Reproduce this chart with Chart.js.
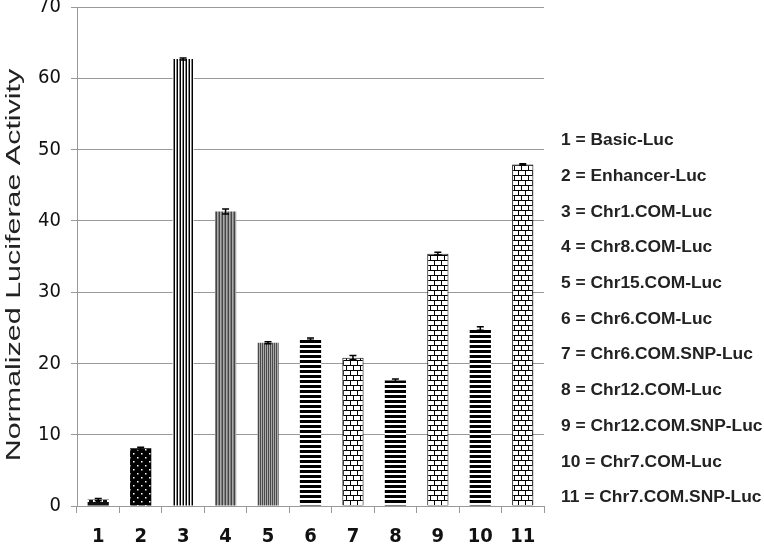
<!DOCTYPE html>
<html>
<head>
<meta charset="utf-8">
<script src="https://cdn.jsdelivr.net/npm/chart.js@4/dist/chart.umd.min.js"></script>
<style>
  html, body { margin: 0; padding: 0; background: #fff; }
  #wrap { width: 764px; height: 548px; }
</style>
</head>
<body>
<div id="wrap"><canvas id="chart" width="764" height="548"></canvas></div>
<script>
(function () {
  "use strict";

  var categories = ["1", "2", "3", "4", "5", "6", "7", "8", "9", "10", "11"];
  var activity = [0.9, 8.1, 62.7, 41.3, 22.9, 23.4, 20.8, 17.6, 35.4, 24.9, 47.9];
  var errors = [0.15, 0.15, 0.15, 0.35, 0.15, 0.15, 0.3, 0.2, 0.2, 0.25, 0.1];
  var constructs = [
    "Basic-Luc",
    "Enhancer-Luc",
    "Chr1.COM-Luc",
    "Chr8.COM-Luc",
    "Chr15.COM-Luc",
    "Chr6.COM-Luc",
    "Chr6.COM.SNP-Luc",
    "Chr12.COM-Luc",
    "Chr12.COM.SNP-Luc",
    "Chr7.COM-Luc",
    "Chr7.COM.SNP-Luc"
  ];
  var fills = ["checks", "dots", "vlines", "vgray", "vfine", "hlines", "brick", "hlines", "brick", "hlines", "brick"];
  var yTitle = "Normalized Luciferae Activity";

  var narrow = '"Liberation Sans Narrow", "DejaVu Sans Condensed", Lato, sans-serif';

  function tile(w, h, draw) {
    var c = document.createElement("canvas");
    c.width = w;
    c.height = h;
    var g = c.getContext("2d");
    g.fillStyle = "#fff";
    g.fillRect(0, 0, w, h);
    draw(g);
    return document.getElementById("chart").getContext("2d").createPattern(c, "repeat");
  }

  function columns(cols) {
    return tile(cols.length, 1, function (g) {
      cols.forEach(function (col, i) {
        g.fillStyle = col;
        g.fillRect(i, 0, 1, 1);
      });
    });
  }

  function makePattern(kind) {
    if (kind === "checks") {
      return tile(7, 6, function (g) {
        g.fillStyle = "#111";
        g.fillRect(0, 0, 7, 6);
        g.fillStyle = "#fff";
        g.fillRect(2, 2, 3, 2);
      });
    }
    if (kind === "dots") {
      return tile(8, 8, function (g) {
        g.fillStyle = "#000";
        g.fillRect(0, 0, 8, 8);
        g.fillStyle = "#fff";
        g.fillRect(1, 1, 1.5, 1.5);
        g.fillRect(5, 5, 1.5, 1.5);
      });
    }
    if (kind === "vlines") return columns(["#000", "#fff", "#888"]);
    if (kind === "vgray") return columns(["#444", "#aaa", "#808080"]);
    if (kind === "vfine") return columns(["#4a4a4a", "#aaa"]);
    if (kind === "hlines") {
      return tile(1, 5, function (g) {
        g.fillStyle = "#000";
        g.fillRect(0, 0, 1, 3);
      });
    }
    // brick
    return tile(14, 10, function (g) {
      g.fillStyle = "#000";
      g.fillRect(0, 0, 14, 1);
      g.fillRect(0, 5, 14, 1);
      g.fillRect(0, 0, 1, 5);
      g.fillRect(7, 0, 1, 5);
      g.fillRect(3, 5, 1, 5);
      g.fillRect(10, 5, 1, 5);
    });
  }

  var errorBars = {
    id: "errorBars",
    afterDatasetsDraw: function (chart) {
      var ctx = chart.ctx;
      var y = chart.scales.y;
      var meta = chart.getDatasetMeta(0);
      ctx.save();
      ctx.strokeStyle = "#000";
      ctx.lineWidth = 1.5;
      meta.data.forEach(function (bar, i) {
        var top = y.getPixelForValue(activity[i] + errors[i]);
        var bot = y.getPixelForValue(activity[i] - errors[i]);
        ctx.beginPath();
        ctx.moveTo(bar.x, top);
        ctx.lineTo(bar.x, bot);
        ctx.moveTo(bar.x - 3.5, top);
        ctx.lineTo(bar.x + 3.5, top);
        ctx.moveTo(bar.x - 3.5, bot);
        ctx.lineTo(bar.x + 3.5, bot);
        ctx.stroke();
      });
      ctx.restore();
    }
  };

  var sideText = {
    id: "sideText",
    afterDraw: function (chart) {
      var ctx = chart.ctx;
      ctx.save();
      // key of construct names
      ctx.fillStyle = "#222";
      ctx.font = 'bold 17.4px "Liberation Sans", Arial, sans-serif';
      ctx.textAlign = "left";
      ctx.textBaseline = "middle";
      constructs.forEach(function (name, i) {
        ctx.fillText(categories[i] + " = " + name, 561, 140.5 + i * 35.7);
      });
      // y axis title, stretched along its length like the original
      ctx.translate(20, 265);
      ctx.rotate(-Math.PI / 2);
      ctx.scale(1.45, 1);
      ctx.font = '21px "Liberation Sans", Arial, sans-serif';
      ctx.textAlign = "center";
      ctx.textBaseline = "alphabetic";
      ctx.fillText(yTitle, 0, 0);
      ctx.restore();
    }
  };

  new Chart(document.getElementById("chart"), {
    type: "bar",
    data: {
      labels: categories,
      datasets: [
        {
          data: activity,
          backgroundColor: fills.map(makePattern),
          borderColor: "#000",
          borderWidth: fills.map(function (f) { return f === "brick" ? 1 : 0; }),
          barPercentage: 0.5,
          categoryPercentage: 1.0
        }
      ]
    },
    options: {
      responsive: false,
      animation: false,
      layout: { padding: { top: 7, right: 220, left: 0, bottom: 0 } },
      plugins: { legend: { display: false }, tooltip: { enabled: false } },
      scales: {
        x: {
          offset: true,
          grid: { drawOnChartArea: false, drawTicks: true, tickLength: 7, color: "#999", offset: true },
          border: { color: "#999" },
          ticks: { color: "#111", padding: 12, font: { family: narrow, size: 20, weight: "bold" } },
          afterFit: function (scale) { scale.height = 42; }
        },
        y: {
          min: 0,
          max: 70,
          ticks: { stepSize: 10, color: "#111", padding: 10, font: { family: narrow, size: 20 } },
          grid: { color: "#999", tickLength: 6 },
          border: { color: "#999" },
          afterFit: function (scale) {
            scale.width = 77;
            scale.paddingTop = 0;
            scale.paddingBottom = 0;
          }
        }
      }
    },
    plugins: [errorBars, sideText]
  });
})();
</script>
</body>
</html>
